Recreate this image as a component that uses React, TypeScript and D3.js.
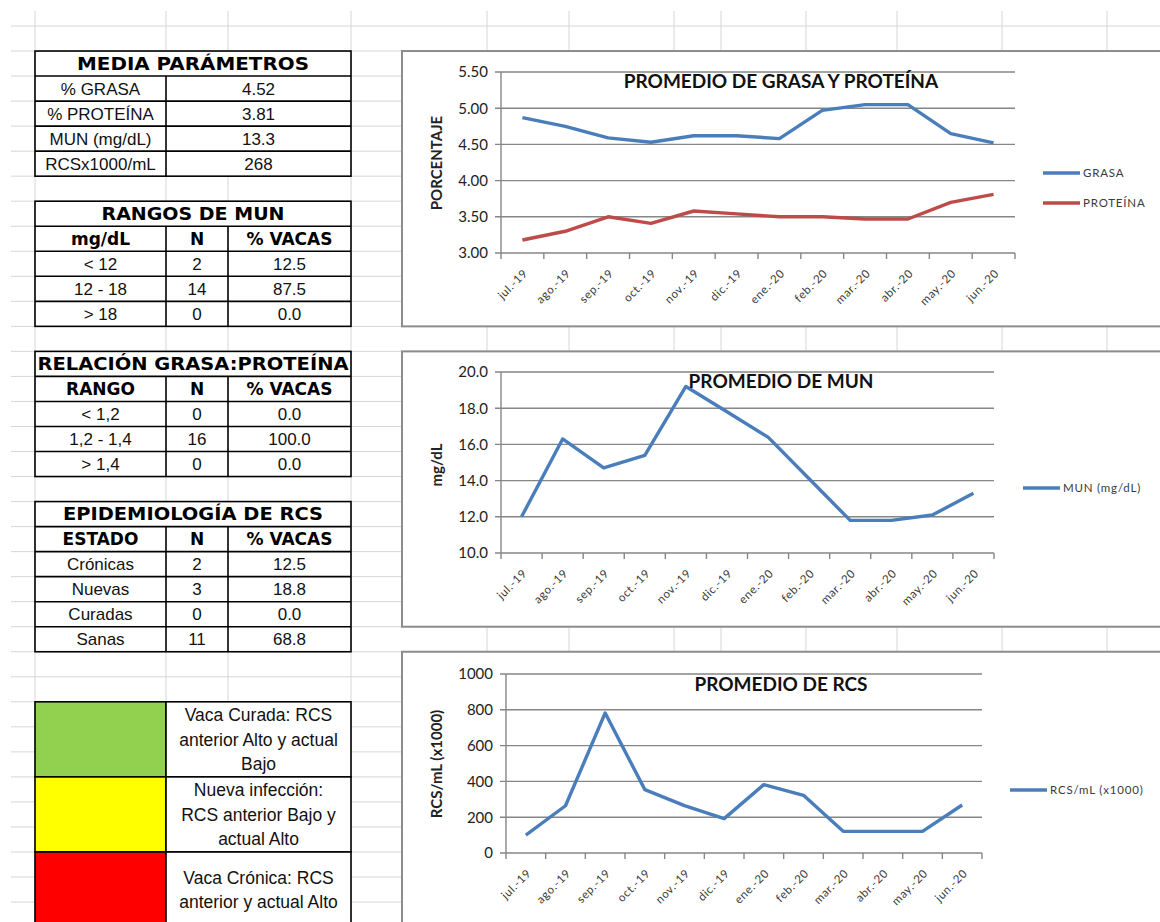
import React from "react";
import * as d3 from "d3";

// monthly series
const months = ["jul.-19", "ago.-19", "sep.-19", "oct.-19", "nov.-19", "dic.-19", "ene.-20", "feb.-20", "mar.-20", "abr.-20", "may.-20", "jun.-20"];
const grasa = [4.87, 4.75, 4.59, 4.53, 4.62, 4.62, 4.58, 4.97, 5.05, 5.05, 4.65, 4.52];
const proteina = [3.18, 3.3, 3.5, 3.41, 3.58, 3.54, 3.5, 3.5, 3.47, 3.47, 3.7, 3.81];
const mun = [12.0, 16.3, 14.7, 15.4, 19.2, 17.8, 16.4, 14.1, 11.8, 11.8, 12.1, 13.3];
const rcs = [100, 264, 782, 354, 265, 192, 382, 322, 121, 121, 121, 268];

// tables
const mediaLabels = ["% GRASA", "% PROTEÍNA", "MUN (mg/dL)", "RCSx1000/mL"];
const mediaValues = ["4.52", "3.81", "13.3", "268"];
const munRanges = ["< 12", "12 - 18", "> 18"];
const munN = ["2", "14", "0"];
const munPct = ["12.5", "87.5", "0.0"];
const relRanges = ["< 1,2", "1,2 - 1,4", "> 1,4"];
const relN = ["0", "16", "0"];
const relPct = ["0.0", "100.0", "0.0"];
const rcsEstados = ["Crónicas", "Nuevas", "Curadas", "Sanas"];
const rcsN = ["2", "3", "0", "11"];
const rcsPct = ["12.5", "18.8", "0.0", "68.8"];
const legendColors = ["#92D050", "#FFFF00", "#FF0000"];
const legendTexts = [
  ["Vaca Curada: RCS", "anterior Alto y actual", "Bajo"],
  ["Nueva infección:", "RCS anterior Bajo y", "actual Alto"],
  ["Vaca Crónica: RCS", "anterior y actual Alto"],
];

const W = 1160;
const H = 922;
const ROW0 = 26;
const ROWH = 25.03;
const rowY = (k: number) => ROW0 + k * ROWH;
const gridCols = [35, 166, 228, 351, 487, 569, 674, 721, 806, 897, 1002, 1107];
const tCols = [35, 166, 228, 351];

const BOLD = "'DejaVu Sans', Verdana, sans-serif";
const BODY = "'Liberation Sans', Arial, sans-serif";
const CHART = "Lato, 'Open Sans', sans-serif";

function SheetGrid() {
  const rows = d3.range(0, 37);
  return (
    <g stroke="#d6d6d6" strokeWidth={1}>
      {rows.map(k => (
        <line key={"h" + k} x1={11} x2={W} y1={rowY(k)} y2={rowY(k)} />
      ))}
      {gridCols.map(x => (
        <line key={"v" + x} x1={x} x2={x} y1={11} y2={H} />
      ))}
    </g>
  );
}

interface TableProps {
  top: number;
  title: string;
  titleLen: number;
  header?: string[];
  cols: string[][];
  merged?: boolean;
}

function Table({ top, title, titleLen, header, cols, merged }: TableProps) {
  const nBody = cols[0].length;
  const nRows = 1 + (header ? 1 : 0) + nBody;
  const y0 = rowY(top);
  const y1 = rowY(top + nRows);
  const cx = (a: number, b: number) => (a + b) / 2;
  const bodyStart = top + 1 + (header ? 1 : 0);
  const inner = merged ? [tCols[1]] : [tCols[1], tCols[2]];
  return (
    <g>
      <rect x={tCols[0]} y={y0} width={tCols[3] - tCols[0]} height={y1 - y0} fill="#fff" />
      <text x={cx(tCols[0], tCols[3])} y={cx(y0, rowY(top + 1))} dy="0.36em" textAnchor="middle"
        fontFamily={BOLD} fontWeight="bold" fontSize={17} textLength={titleLen} lengthAdjust="spacingAndGlyphs">
        {title}
      </text>
      {header && header.map((h, i) => {
        const a = tCols[i], b = tCols[i + 1];
        return (
          <text key={h} x={cx(a, b)} y={cx(rowY(top + 1), rowY(top + 2))} dy="0.36em" textAnchor="middle"
            fontFamily={BOLD} fontWeight="bold" fontSize={17}>
            {h}
          </text>
        );
      })}
      {d3.range(nBody).map(r => {
        const yc = cx(rowY(bodyStart + r), rowY(bodyStart + r + 1));
        return cols.map((col, c) => {
          const a = tCols[c];
          const b = merged && c === 1 ? tCols[3] : tCols[c + 1];
          return (
            <text key={r + "-" + c} x={cx(a, b)} y={yc} dy="0.36em" textAnchor="middle"
              fontFamily={BODY} fontSize={17} fill="#111">
              {col[r]}
            </text>
          );
        });
      })}
      <g stroke="#000" strokeWidth={1.6} fill="none">
        <rect x={tCols[0]} y={y0} width={tCols[3] - tCols[0]} height={y1 - y0} />
        {d3.range(top + 1, top + nRows).map(k => (
          <line key={k} x1={tCols[0]} x2={tCols[3]} y1={rowY(k)} y2={rowY(k)} />
        ))}
        {inner.map(x => (
          <line key={x} x1={x} x2={x} y1={rowY(top + 1)} y2={y1} />
        ))}
      </g>
    </g>
  );
}

function ColorLegend({ top }: { top: number }) {
  return (
    <g>
      {legendColors.map((c, i) => {
        const y0 = rowY(top + i * 3);
        const y1 = rowY(top + i * 3 + 3);
        const lines = legendTexts[i];
        const mid = (y0 + y1) / 2;
        const lh = 24.5;
        return (
          <g key={c}>
            <rect x={tCols[0]} y={y0} width={tCols[1] - tCols[0]} height={y1 - y0} fill={c} stroke="#000" strokeWidth={1.6} />
            <rect x={tCols[1]} y={y0} width={tCols[3] - tCols[1]} height={y1 - y0} fill="#fff" stroke="#000" strokeWidth={1.6} />
            {lines.map((t, j) => (
              <text key={t} x={(tCols[1] + tCols[3]) / 2} y={mid + (j - (lines.length - 1) / 2) * lh} dy="0.36em"
                textAnchor="middle" fontFamily={BODY} fontSize={17.5} fill="#111">
                {t}
              </text>
            ))}
          </g>
        );
      })}
    </g>
  );
}

interface Series {
  name: string;
  values: number[];
  color: string;
}

interface ChartProps {
  boxTop: number;
  boxBottom: number;
  plot: { left: number; right: number; top: number; bottom: number };
  domain: [number, number];
  step: number;
  fmt: string;
  title: string;
  titleY: number;
  yLabel: string;
  yLabelY: number;
  series: Series[];
  legendX: number;
  legendY: number[];
}

function LineChart(p: ChartProps) {
  const { plot } = p;
  const x = d3.scaleBand<string>().domain(months).range([plot.left, plot.right]);
  const y = d3.scaleLinear().domain(p.domain).range([plot.bottom, plot.top]);
  const ticks = d3.range(p.domain[0], p.domain[1] + p.step / 2, p.step);
  const f = d3.format(p.fmt);
  const line = d3.line<number>()
    .x((_, i) => (x(months[i]) as number) + x.bandwidth() / 2)
    .y(d => y(d));
  const edges = months.map(m => x(m) as number).concat([plot.right]);
  return (
    <g>
      <rect x={402} y={p.boxTop} width={W} height={p.boxBottom - p.boxTop} fill="#fff" stroke="#8c8c8c" strokeWidth={2} />
      <g stroke="#868686" strokeWidth={1.4}>
        {ticks.map(t => (
          <line key={t} x1={plot.left - 6} x2={plot.right} y1={y(t)} y2={y(t)} />
        ))}
        <line x1={plot.left} x2={plot.left} y1={plot.top} y2={plot.bottom} />
        {edges.map((e, i) => (
          <line key={i} x1={e} x2={e} y1={plot.bottom} y2={plot.bottom + 6} />
        ))}
      </g>
      {ticks.map(t => (
        <text key={t} x={plot.left - 13} y={y(t)} dy="0.36em" textAnchor="end" fontFamily={CHART} fontSize={15} fill="#222">
          {f(t)}
        </text>
      ))}
      {months.map(m => {
        const cx = (x(m) as number) + x.bandwidth() / 2 + 6;
        const cy = plot.bottom + 21;
        return (
          <text key={m} x={cx} y={cy} textAnchor="end" fontFamily={CHART} fontSize={11.5} fill="#3a3a3a"
            letterSpacing={0.6} transform={`rotate(-45,${cx},${cy})`}>
            {m}
          </text>
        );
      })}
      <text x={437} y={p.yLabelY} dy="0.36em" textAnchor="middle" fontFamily={CHART} fontWeight="bold" fontSize={15}
        fill="#222" transform={`rotate(-90,437,${p.yLabelY})`}>
        {p.yLabel}
      </text>
      {p.series.map(s => (
        <path key={s.name} d={line(s.values) as string} fill="none" stroke={s.color} strokeWidth={3.4} strokeLinejoin="round" />
      ))}
      <text x={781} y={p.titleY} dy="0.36em" textAnchor="middle" fontFamily={CHART} fontWeight="bold" fontSize={19} fill="#111">
        {p.title}
      </text>
      {p.series.map((s, i) => (
        <g key={s.name}>
          <line x1={p.legendX} x2={p.legendX + 37} y1={p.legendY[i]} y2={p.legendY[i]} stroke={s.color} strokeWidth={3.4} />
          <text x={p.legendX + 40} y={p.legendY[i]} dy="0.36em" fontFamily={CHART} fontSize={11.5} fill="#3a3a3a" letterSpacing={0.8}>
            {s.name}
          </text>
        </g>
      ))}
    </g>
  );
}

export default function App() {
  return (
    <svg width={W} height={H} viewBox={`0 0 ${W} ${H}`} style={{ position: "absolute", left: 0, top: 0, background: "#fff" }}>
      <rect width={W} height={H} fill="#fff" />
      <SheetGrid />
      <Table top={1} title="MEDIA PARÁMETROS" titleLen={232} cols={[mediaLabels, mediaValues]} merged />
      <Table top={7} title="RANGOS DE MUN" titleLen={183} header={["mg/dL", "N", "% VACAS"]} cols={[munRanges, munN, munPct]} />
      <Table top={13} title="RELACIÓN GRASA:PROTEÍNA" titleLen={311} header={["RANGO", "N", "% VACAS"]} cols={[relRanges, relN, relPct]} />
      <Table top={19} title="EPIDEMIOLOGÍA DE RCS" titleLen={260} header={["ESTADO", "N", "% VACAS"]} cols={[rcsEstados, rcsN, rcsPct]} />
      <ColorLegend top={27} />
      <LineChart
        boxTop={rowY(1)} boxBottom={rowY(12)}
        plot={{ left: 501, right: 1015, top: 72, bottom: 253 }}
        domain={[3, 5.5]} step={0.5} fmt=".2f"
        title="PROMEDIO DE GRASA Y PROTEÍNA" titleY={81}
        yLabel="PORCENTAJE" yLabelY={163}
        series={[{ name: "GRASA", values: grasa, color: "#4A7EBB" }, { name: "PROTEÍNA", values: proteina, color: "#BE4B48" }]}
        legendX={1043} legendY={[173, 203]}
      />
      <LineChart
        boxTop={rowY(13)} boxBottom={rowY(24)}
        plot={{ left: 501, right: 994, top: 372, bottom: 553 }}
        domain={[10, 20]} step={2} fmt=".1f"
        title="PROMEDIO DE MUN" titleY={381}
        yLabel="mg/dL" yLabelY={465}
        series={[{ name: "MUN (mg/dL)", values: mun, color: "#4A7EBB" }]}
        legendX={1023} legendY={[488]}
      />
      <LineChart
        boxTop={rowY(25)} boxBottom={H + 20}
        plot={{ left: 506, right: 982, top: 674, bottom: 853 }}
        domain={[0, 1000]} step={200} fmt="d"
        title="PROMEDIO DE RCS" titleY={684}
        yLabel="RCS/mL (x1000)" yLabelY={764}
        series={[{ name: "RCS/mL (x1000)", values: rcs, color: "#4A7EBB" }]}
        legendX={1010} legendY={[790]}
      />
    </svg>
  );
}
